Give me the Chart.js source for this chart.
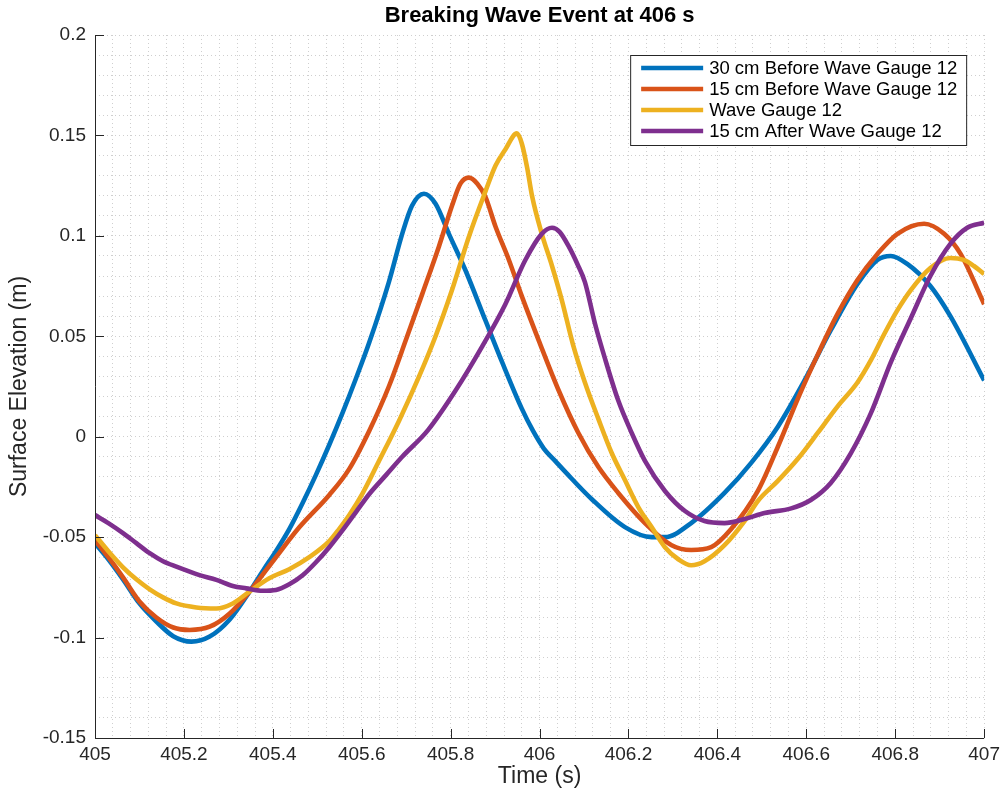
<!DOCTYPE html>
<html>
<head>
<meta charset="utf-8">
<title>Breaking Wave Event at 406 s</title>
<script src="https://cdn.jsdelivr.net/npm/chart.js@4.4.1/dist/chart.umd.min.js"></script>
<style>
  html, body { margin: 0; padding: 0; background: #ffffff; }
  #wrap { width: 1005px; height: 793px; }
</style>
</head>
<body>
<div id="wrap"><canvas id="c" width="1005" height="793"></canvas></div>
<script>
// Surface elevation records around the breaking event (time in s, elevation in m)
const seriesNames = [
  '30 cm Before Wave Gauge 12',
  '15 cm Before Wave Gauge 12',
  'Wave Gauge 12',
  '15 cm After Wave Gauge 12'
];
const seriesColors = ['#0072BD', '#D95319', '#EDB120', '#7E2F8E'];

const before30Time = [405.000, 405.030, 405.063, 405.100, 405.138, 405.176, 405.217, 405.258, 405.303, 405.348, 405.380, 405.407, 405.437, 405.467, 405.497, 405.527, 405.557, 405.587, 405.617, 405.661, 405.691, 405.713, 405.740, 405.766, 405.796, 405.833, 405.878, 405.916, 405.960, 405.985, 406.010, 406.035, 406.060, 406.117, 406.192, 406.252, 406.282, 406.341, 406.416, 406.476, 406.536, 406.596, 406.655, 406.715, 406.760, 406.790, 406.827, 406.879, 406.924, 407.000];
const before30Elev = [-0.053, -0.061, -0.071, -0.083, -0.092, -0.0993, -0.102, -0.0995, -0.091, -0.077, -0.066, -0.057, -0.046, -0.033, -0.019, -0.004, 0.012, 0.029, 0.047, 0.077, 0.101, 0.115, 0.121, 0.116, 0.101, 0.083, 0.058, 0.037, 0.014, 0.003, -0.006, -0.012, -0.018, -0.031, -0.045, -0.050, -0.050, -0.043, -0.028, -0.013, 0.005, 0.028, 0.053, 0.076, 0.088, 0.090, 0.086, 0.075, 0.060, 0.028];

const before15Time = [405.000, 405.030, 405.063, 405.100, 405.138, 405.176, 405.213, 405.258, 405.303, 405.348, 405.407, 405.460, 405.527, 405.572, 405.617, 405.661, 405.699, 405.736, 405.774, 405.803, 405.822, 405.841, 405.860, 405.878, 405.901, 405.931, 405.960, 405.998, 406.043, 406.087, 406.132, 406.177, 406.237, 406.297, 406.341, 406.386, 406.431, 406.491, 406.536, 406.581, 406.626, 406.670, 406.715, 406.760, 406.805, 406.865, 406.910, 406.947, 407.000];
const before15Elev = [-0.0515, -0.060, -0.070, -0.082, -0.090, -0.095, -0.0962, -0.0946, -0.088, -0.077, -0.060, -0.045, -0.029, -0.016, 0.003, 0.025, 0.048, 0.071, 0.095, 0.115, 0.126, 0.129, 0.126, 0.1195, 0.1045, 0.088, 0.070, 0.048, 0.023, 0.002, -0.015, -0.028, -0.043, -0.054, -0.0564, -0.055, -0.046, -0.027, -0.005, 0.019, 0.041, 0.061, 0.078, 0.091, 0.101, 0.106, 0.101, 0.091, 0.066];

const gauge12Time = [405.000, 405.030, 405.063, 405.093, 405.123, 405.153, 405.183, 405.228, 405.273, 405.310, 405.348, 405.392, 405.437, 405.482, 405.527, 405.549, 405.572, 405.600, 405.639, 405.684, 405.729, 405.766, 405.803, 405.841, 405.878, 405.901, 405.923, 405.949, 405.960, 405.972, 405.983, 406.005, 406.028, 406.050, 406.075, 406.102, 406.132, 406.162, 406.192, 406.222, 406.252, 406.282, 406.312, 406.341, 406.371, 406.416, 406.461, 406.491, 406.536, 406.581, 406.626, 406.670, 406.715, 406.745, 406.775, 406.805, 406.835, 406.879, 406.924, 406.954, 406.977, 407.000];
const gauge12Elev = [-0.049, -0.057, -0.065, -0.071, -0.076, -0.080, -0.083, -0.085, -0.0855, -0.083, -0.077, -0.0705, -0.066, -0.060, -0.052, -0.046, -0.039, -0.029, -0.012, 0.008, 0.030, 0.050, 0.073, 0.0996, 0.122, 0.135, 0.143, 0.151, 0.146, 0.134, 0.120, 0.101, 0.085, 0.068, 0.046, 0.027, 0.009, -0.008, -0.0216, -0.035, -0.045, -0.055, -0.061, -0.064, -0.062, -0.054, -0.042, -0.032, -0.022, -0.011, 0.002, 0.015, 0.027, 0.038, 0.051, 0.063, 0.073, 0.084, 0.089, 0.088, 0.085, 0.081];

const after15Time = [405.000, 405.030, 405.063, 405.093, 405.123, 405.153, 405.183, 405.235, 405.273, 405.310, 405.340, 405.377, 405.407, 405.437, 405.467, 405.497, 405.527, 405.557, 405.587, 405.617, 405.655, 405.691, 405.749, 405.811, 405.871, 405.923, 405.968, 406.005, 406.028, 406.045, 406.065, 406.085, 406.102, 406.125, 406.147, 406.177, 406.207, 406.237, 406.282, 406.327, 406.371, 406.416, 406.461, 406.506, 406.566, 406.610, 406.655, 406.700, 406.745, 406.790, 406.835, 406.879, 406.924, 406.962, 407.000];
const after15Elev = [-0.039, -0.043, -0.048, -0.053, -0.058, -0.062, -0.0647, -0.0689, -0.0713, -0.0743, -0.0755, -0.0767, -0.0763, -0.0735, -0.069, -0.0625, -0.055, -0.0465, -0.0375, -0.0285, -0.019, -0.010, 0.0033, 0.023, 0.045, 0.066, 0.088, 0.101, 0.104, 0.102, 0.095, 0.086, 0.077, 0.056, 0.039, 0.018, 0.002, -0.012, -0.027, -0.037, -0.042, -0.043, -0.041, -0.038, -0.0357, -0.0315, -0.023, -0.0083, 0.0116, 0.037, 0.059, 0.080, 0.096, 0.104, 0.1065];

// Axis ranges, tick spacing and the labelled ticks
const timeRange = [405, 407];
const elevRange = [-0.15, 0.2];
const timeMinorStep = 0.04;
const elevMinorStep = 0.01;
const timeTickLabels = ['405', '405.2', '405.4', '405.6', '405.8', '406', '406.2', '406.4', '406.6', '406.8', '407'];
const elevTickLabels = ['-0.15', '-0.1', '-0.05', '0', '0.05', '0.1', '0.15', '0.2'];

const FONT = 'Liberation Sans, Arial, Helvetica, sans-serif';
const AXIS_COLOR = '#262626';

function toPoints(ts, vs) {
  return ts.map((t, i) => ({ x: t, y: vs[i] }));
}
const seriesData = [
  toPoints(before30Time, before30Elev),
  toPoints(before15Time, before15Elev),
  toPoints(gauge12Time, gauge12Elev),
  toPoints(after15Time, after15Elev)
];

function labelFor(value, labels) {
  const hit = labels.find(l => Math.abs(parseFloat(l) - value) < 1e-6);
  return hit === undefined ? '' : hit;
}

// Axis lines with inward-pointing ticks at the labelled values
const axesPlugin = {
  id: 'axesInward',
  afterDatasetsDraw(chart) {
    const { ctx, chartArea: a, scales: { x, y } } = chart;
    ctx.save();
    ctx.strokeStyle = AXIS_COLOR;
    ctx.lineWidth = 1;
    ctx.beginPath();
    ctx.moveTo(a.left + 0.5, a.top);
    ctx.lineTo(a.left + 0.5, a.bottom + 0.5);
    ctx.lineTo(a.right, a.bottom + 0.5);
    timeTickLabels.forEach(l => {
      const px = Math.round(x.getPixelForValue(parseFloat(l))) + 0.5;
      ctx.moveTo(px, a.bottom);
      ctx.lineTo(px, a.bottom - 9);
    });
    elevTickLabels.forEach(l => {
      const py = Math.round(y.getPixelForValue(parseFloat(l))) + 0.5;
      ctx.moveTo(a.left, py);
      ctx.lineTo(a.left + 9, py);
    });
    ctx.stroke();
    ctx.restore();
  }
};

// Boxed legend in the upper right corner of the plot
const legendPlugin = {
  id: 'insetLegend',
  afterDraw(chart) {
    const { ctx, chartArea: a } = chart;
    const right = a.right - 18, top = a.top + 20;
    const w = 336, h = 90;
    const left = right - w;
    ctx.save();
    ctx.fillStyle = '#ffffff';
    ctx.fillRect(left, top, w, h);
    ctx.strokeStyle = AXIS_COLOR;
    ctx.lineWidth = 1;
    ctx.strokeRect(left + 0.5, top + 0.5, w, h);
    ctx.font = '18.5px ' + FONT;
    ctx.textBaseline = 'middle';
    ctx.fillStyle = '#000000';
    chart.data.datasets.forEach((ds, i) => {
      const cy = top + 13 + i * 21;
      ctx.strokeStyle = ds.borderColor;
      ctx.lineWidth = 4.5;
      ctx.beginPath();
      ctx.moveTo(left + 11, cy);
      ctx.lineTo(left + 73, cy);
      ctx.stroke();
      ctx.fillText(ds.label, left + 79, cy + 1);
    });
    ctx.restore();
  }
};

new Chart(document.getElementById('c'), {
  type: 'line',
  data: {
    datasets: seriesData.map((pts, i) => ({
      label: seriesNames[i],
      data: pts,
      borderColor: seriesColors[i],
      backgroundColor: seriesColors[i],
      borderWidth: 4.6,
      pointRadius: 0,
      fill: false,
      cubicInterpolationMode: 'monotone',
      order: 4 - i
    }))
  },
  options: {
    responsive: false,
    animation: false,
    events: [],
    layout: { autoPadding: false, padding: { left: 0, right: 18, top: 0, bottom: 0 } },
    plugins: {
      legend: { display: false },
      tooltip: { enabled: false },
      title: {
        display: true,
        fullSize: false,
        text: 'Breaking Wave Event at 406 s',
        color: '#000000',
        font: { family: FONT, size: 22, weight: 'bold' },
        padding: { top: 3, bottom: 5.6 }
      }
    },
    scales: {
      x: {
        type: 'linear',
        min: timeRange[0],
        max: timeRange[1],
        afterFit(s) { s.height = 55; },
        grid: { color: '#cfcfcf', lineWidth: 1, drawTicks: false },
        border: { display: false, dash: [1, 3] },
        ticks: {
          stepSize: timeMinorStep,
          maxTicksLimit: 200,
          autoSkip: false,
          maxRotation: 0,
          padding: 5,
          color: '#262626',
          font: { family: FONT, size: 19 },
          callback: v => labelFor(v, timeTickLabels)
        },
        title: {
          display: true,
          text: 'Time (s)',
          color: '#262626',
          font: { family: FONT, size: 23 },
          padding: { top: 0, bottom: 3 }
        }
      },
      y: {
        type: 'linear',
        min: elevRange[0],
        max: elevRange[1],
        afterFit(s) { s.width = 95; },
        grid: { color: '#cfcfcf', lineWidth: 1, drawTicks: false },
        border: { display: false, dash: [1, 3] },
        ticks: {
          stepSize: elevMinorStep,
          maxTicksLimit: 200,
          autoSkip: false,
          padding: 9,
          color: '#262626',
          font: { family: FONT, size: 19 },
          callback: v => labelFor(v, elevTickLabels)
        },
        title: {
          display: true,
          text: 'Surface Elevation (m)',
          color: '#262626',
          font: { family: FONT, size: 23 },
          padding: { top: 6, bottom: 0 }
        }
      }
    }
  },
  plugins: [axesPlugin, legendPlugin]
});
</script>
</body>
</html>
